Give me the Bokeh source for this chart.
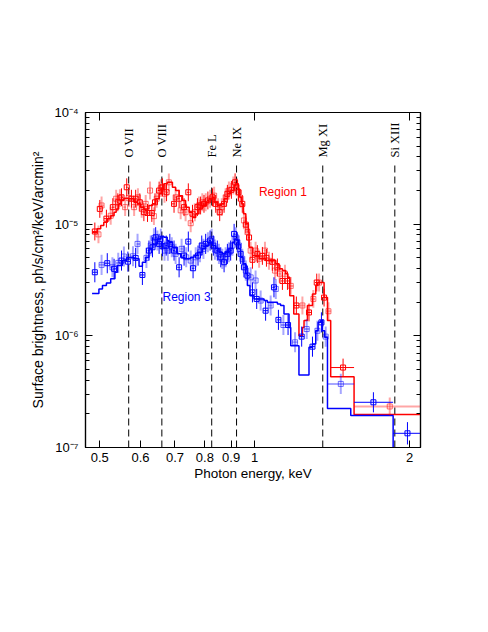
import numpy as np
from bokeh.plotting import figure
from bokeh.models import FixedTicker, LogAxis, CustomJSTickFormatter, Range1d
from bokeh.core.properties import value
from bokeh.embed import file_html
from bokeh.resources import INLINE

UNIT = 1e-6  # brightness values below are in units of 1e-6 ph/s/cm2/keV/arcmin2

# ---------------- data ----------------
# Region 1 model (step): bin edges (keV) and values
red_model_edges = [0.483, 0.494, 0.502, 0.509, 0.517, 0.525, 0.533, 0.538, 0.544, 0.551,
                   0.557, 0.567, 0.583, 0.592, 0.600, 0.609, 0.623, 0.633, 0.642, 0.652,
                   0.658, 0.666, 0.676, 0.692, 0.702, 0.713, 0.724, 0.734, 0.746, 0.757,
                   0.768, 0.779, 0.791, 0.803, 0.815, 0.828, 0.834, 0.846, 0.859, 0.872,
                   0.885, 0.898, 0.912, 0.919, 0.928, 0.935, 0.943, 0.951, 0.961, 0.972,
                   0.975, 0.990, 1.020, 1.050, 1.082, 1.099, 1.115, 1.132, 1.149, 1.160,
                   1.170, 1.191, 1.219, 1.238, 1.247, 1.266, 1.295, 1.314, 1.324, 1.334,
                   1.364, 1.385, 1.405, 1.560, 2.200]
red_model_vals = [8.46, 9.08, 9.72, 10.4, 11.2, 11.9, 12.8, 13.7, 15.2, 16.3,
                  17.1, 16.9, 15.7, 15.2, 14.2, 13.7, 14.7, 15.2, 16.9, 18.7,
                  20.6, 23.0, 23.7, 21.4, 20.0, 18.0, 16.3, 14.2, 12.8, 11.5,
                  12.4, 13.7, 14.7, 15.7, 16.9, 17.4, 15.7, 14.7, 15.2, 16.9,
                  18.7, 20.0, 22.2, 23.0, 20.7, 17.4, 15.2, 12.4, 10.1, 8.46,
                  6.21, 5.23, 4.89, 4.72, 4.72, 4.41, 3.98, 3.84, 3.59, 3.34,
                  2.29, 1.57, 1.00, 1.19, 1.37, 1.87, 2.37, 2.82, 3.01, 3.01,
                  2.21, 1.37, 0.431, 0.197]

# Region 3 model (step)
blue_model_edges = [0.483, 0.498, 0.506, 0.515, 0.525, 0.535, 0.541, 0.553, 0.564, 0.583,
                    0.596, 0.605, 0.614, 0.623, 0.633, 0.647, 0.657, 0.666, 0.676, 0.681,
                    0.692, 0.707, 0.718, 0.729, 0.751, 0.762, 0.774, 0.791, 0.803, 0.815,
                    0.828, 0.840, 0.852, 0.865, 0.878, 0.891, 0.905, 0.914, 0.923, 0.930,
                    0.939, 0.949, 0.961, 0.968, 0.979, 0.997, 1.043, 1.058, 1.107, 1.123,
                    1.140, 1.166, 1.175, 1.219, 1.275, 1.295, 1.314, 1.328, 1.344, 1.354,
                    1.368, 1.385, 1.537, 1.858, 2.200]
blue_model_vals = [2.40, 2.63, 2.82, 2.98, 3.24, 3.71, 4.26, 4.72, 5.02, 4.89,
                   4.20, 4.56, 5.05, 6.01, 6.66, 7.38, 7.80, 7.64, 7.13, 6.88,
                   6.21, 5.42, 5.05, 4.89, 5.05, 5.23, 5.60, 6.01, 6.43, 6.88,
                   6.43, 6.01, 5.60, 5.42, 5.60, 6.01, 6.88, 7.38, 7.13, 6.01,
                   5.05, 4.41, 3.59, 2.82, 2.29, 2.14, 2.07, 2.00, 1.93, 1.87,
                   1.57, 1.19, 0.817, 0.447, 0.789, 0.846, 1.11, 1.32, 1.37, 1.11,
                   0.97, 0.224, 0.193, 0.05]

# Region 1 data points
red_e = [0.489, 0.497, 0.500, 0.504, 0.515, 0.525, 0.530, 0.538, 0.542, 0.547,
         0.551, 0.560, 0.564, 0.569, 0.576, 0.583, 0.587, 0.593, 0.598, 0.603,
         0.609, 0.614, 0.619, 0.626, 0.631, 0.637, 0.640, 0.645, 0.652, 0.657,
         0.662, 0.668, 0.674, 0.681,
         0.697, 0.702, 0.713, 0.718, 0.729, 0.734, 0.743, 0.751, 0.757, 0.765,
         0.774, 0.779, 0.785, 0.791, 0.797, 0.803, 0.811, 0.819, 0.828, 0.834,
         0.840, 0.849, 0.855, 0.863, 0.872, 0.878, 0.885, 0.891, 0.901, 0.909,
         0.916, 0.923, 0.930, 0.939, 0.946, 0.953, 0.961, 0.968, 0.975, 0.982,
         0.990, 1.004, 1.012, 1.020, 1.035, 1.047, 1.054, 1.066, 1.082, 1.095,
         1.107, 1.118, 1.132, 1.145, 1.158, 1.175, 1.205, 1.238, 1.275, 1.300,
         1.320, 1.334, 1.364, 1.391, 1.485, 1.830]
red_f = [8.6, 8.1, 13.7, 14.7, 11.2, 11.9, 14.2, 16.9, 15.7, 17.1,
         17.4, 14.2, 21.4, 17.1, 16.9, 14.2, 16.9, 17.4, 15.7, 13.7,
         12.8, 15.2, 12.6, 20.0, 12.6, 11.8, 15.7, 16.9, 20.0, 21.0,
         21.4, 18.7, 19.3, 23.7,
         15.2, 17.4, 16.9, 13.3, 14.2, 12.8, 19.3, 10.2, 12.4, 12.8,
         14.2, 14.7, 14.7, 15.7, 15.2, 15.7, 16.3, 16.9, 17.4, 18.0,
         15.2, 14.2, 12.8, 14.2, 15.2, 17.4, 18.7, 20.0, 20.3, 22.2,
         23.7, 21.4, 19.3, 16.9, 15.2, 10.8, 9.9, 8.5, 7.6, 5.8,
         4.8, 5.8, 5.4, 4.9, 5.2, 5.8, 5.0, 4.7, 4.6, 3.84,
         4.1, 3.6, 3.1, 3.6, 3.1, 2.8, 1.87, 1.87, 1.62, 2.14,
         3.0, 3.0, 2.2, 1.66, 0.52, 0.233]
red_wide_bins = {98: (1.405, 1.560), 99: (1.560, 2.200)}

# Region 3 data points
blue_e = [0.489, 0.504, 0.517, 0.529, 0.533, 0.543, 0.551, 0.557, 0.567, 0.580,
          0.587, 0.592, 0.605, 0.616, 0.623, 0.628, 0.633, 0.637, 0.642, 0.647,
          0.652, 0.657, 0.662, 0.668, 0.673, 0.678, 0.684, 0.690, 0.697, 0.702,
          0.713, 0.721, 0.729, 0.736, 0.743, 0.751, 0.759, 0.768, 0.776, 0.783,
          0.789, 0.795, 0.803, 0.811, 0.819, 0.825, 0.831, 0.837, 0.846, 0.852,
          0.859, 0.865, 0.872, 0.878, 0.885, 0.891, 0.898, 0.905, 0.912, 0.919,
          0.925, 0.932, 0.939, 0.946, 0.953, 0.961, 0.968, 0.982, 0.990, 1.004,
          1.009, 1.027, 1.050, 1.074, 1.090, 1.099, 1.112, 1.137, 1.161, 1.198,
          1.234, 1.262, 1.295, 1.324, 1.348, 1.374, 1.470, 1.701, 1.981]
blue_f = [3.71, 4.32, 4.47, 4.11, 3.98, 4.50, 4.72, 5.13, 4.62, 5.16,
          4.99, 6.66, 3.51, 4.99, 5.80, 6.43, 6.21, 7.48, 7.64, 7.13,
          6.66, 7.38, 6.34, 5.80, 6.43, 5.80, 6.66, 6.21, 5.80, 5.42,
          4.11, 6.01, 5.23, 5.05, 6.98, 4.72, 4.03, 5.05, 5.23, 5.60,
          6.43, 6.01, 6.66, 6.88, 7.13, 7.38, 6.43, 5.92, 5.80, 5.42,
          5.05, 4.89, 4.56, 5.05, 5.42, 5.60, 5.80, 6.43, 8.18, 7.64,
          6.88, 6.43, 5.42, 4.89, 4.11, 3.84, 3.46, 3.34, 2.45, 3.13,
          2.14, 2.07, 1.68, 1.87, 2.72, 2.63, 1.39, 1.25, 1.25, 0.875,
          0.984, 1.15, 0.80, 1.11, 1.32, 0.984, 0.371, 0.254, 0.134]
blue_wide_bins = {86: (1.385, 1.560), 87: (1.560, 1.858), 88: (1.858, 2.200)}
blue_light_swap = {86, 87}

# emission lines
line_names = ["O VII", "O VIII", "Fe L", "Ne IX", "Mg XI", "Si XIII"]
line_e = [0.569, 0.660, 0.825, 0.922, 1.356, 1.872]

y_ticks = [1e-7, 1e-6, 1e-5, 1e-4]
x_ticks = [0.5, 0.6, 0.7, 0.8, 0.9, 1.0, 2.0]
x_top_ticks = [0.5, 1.0, 2.0]

# ---------------- figure ----------------
p = figure(width=480, height=624, x_axis_type="log", y_axis_type="log",
           x_range=Range1d(0.469, 2.10), y_range=Range1d(1e-7, 1e-4),
           output_backend="svg", toolbar_location=None,
           min_border_left=85, min_border_right=60, min_border_top=112,
           min_border_bottom=177)
p.grid.visible = False
p.outline_line_color = "black"
p.outline_line_width = 1.2
p.background_fill_color = "white"
p.border_fill_color = "white"

minor_y = [k * d for d in [1e-7, 1e-6, 1e-5] for k in range(2, 10)]

sup = ("const m={'-':'\u207b','0':'\u2070','1':'\u00b9','2':'\u00b2','3':'\u00b3',"
       "'4':'\u2074','5':'\u2075','6':'\u2076','7':'\u2077','8':'\u2078','9':'\u2079'};"
       "const e=Math.round(Math.log10(tick));"
       "return '10'+String(e).split('').map(c=>m[c]).join('');")

yax = p.yaxis[0]
yax.ticker = FixedTicker(ticks=y_ticks, minor_ticks=minor_y)
yax.formatter = CustomJSTickFormatter(code=sup)
xax = p.xaxis[0]
xax.ticker = FixedTicker(ticks=x_ticks, minor_ticks=[])
xax.formatter = CustomJSTickFormatter(code="return String(tick);")

for ax in (xax, yax):
    ax.major_tick_in = 7
    ax.major_tick_out = 0
    ax.minor_tick_in = 4
    ax.minor_tick_out = 0
    ax.axis_line_color = "black"
    ax.axis_line_width = 1.2
    ax.major_label_text_font = "Liberation Sans"
    ax.major_label_text_font_size = "13px"
    ax.major_label_text_color = "black"
    ax.axis_label_text_font = "Liberation Sans"
    ax.axis_label_text_font_style = "normal"
    ax.axis_label_text_color = "black"

xax.axis_label = "Photon energy, keV"
xax.axis_label_text_font_size = "13.5px"
xax.major_label_standoff = 5
xax.axis_label_standoff = 1
yax.axis_label = "Surface brightness, ph/s/cm\u00b2/keV/arcmin\u00b2"
yax.axis_label_text_font_size = "14px"
yax.major_label_standoff = 7
yax.axis_label_standoff = 5

top = LogAxis(ticker=FixedTicker(ticks=x_top_ticks, minor_ticks=[]),
              formatter=CustomJSTickFormatter(code="return '';"),
              major_tick_in=8, major_tick_out=0, minor_tick_in=0, minor_tick_out=0,
              axis_line_color="black", axis_line_width=1.2,
              major_label_text_font_size="1px")
p.add_layout(top, "above")
right = LogAxis(ticker=FixedTicker(ticks=y_ticks, minor_ticks=minor_y),
                formatter=CustomJSTickFormatter(code="return '';"),
                major_tick_in=7, major_tick_out=0, minor_tick_in=4, minor_tick_out=0,
                axis_line_color="black", axis_line_width=1.2,
                major_label_text_font_size="1px")
p.add_layout(right, "right")

# emission line markers
p.segment(x0=line_e, y0=[1e-7] * len(line_e), x1=line_e, y1=[3.5e-5] * len(line_e),
          line_color="black", line_width=1, line_dash="7 4")
p.text(x=line_e, y=[3.95e-5] * len(line_e), text=line_names, angle=np.pi / 2,
       text_align="left", text_baseline="alphabetic", text_color="black",
       text_font=value("Liberation Serif"), text_font_size="12.5px")

# models
def draw_model(edges, vals, color):
    ys = [v * UNIT for v in vals] + [vals[-1] * UNIT]
    p.step(x=edges, y=ys, mode="after", line_color=color, line_width=1.5)

draw_model(red_model_edges, red_model_vals, "#ff0000")
draw_model(blue_model_edges, blue_model_vals, "#0000ff")

# data points
def draw_data(es, fs, wide, color, dex, swap=frozenset()):
    es = np.array(es)
    fs = np.array(fs) * UNIT
    n = len(es)
    lo = np.empty(n)
    hi = np.empty(n)
    for i in range(n):
        if i in wide:
            lo[i], hi[i] = wide[i]
        else:
            l = np.sqrt(es[i - 1] * es[i]) if i > 0 else es[i] / 1.01
            h = np.sqrt(es[i] * es[i + 1]) if i < n - 1 else es[i] * 1.01
            lo[i] = max(l, es[i] / 1.012)
            hi[i] = min(h, es[i] * 1.012)
    d = np.array(dex)
    ylo = fs / 10 ** d
    yhi = fs * 10 ** d
    light = np.array([(i % 2 == 1) != (i in swap) for i in range(n)])
    for sel, alpha, lw, malpha in ((light, 0.35, 2.0, 0.55), (~light, 1.0, 1.0, 1.0)):
        p.segment(x0=es[sel], y0=ylo[sel], x1=es[sel], y1=yhi[sel],
                  line_color=color, line_alpha=alpha, line_width=lw)
        p.segment(x0=lo[sel], y0=fs[sel], x1=hi[sel], y1=fs[sel],
                  line_color=color, line_alpha=alpha, line_width=lw)
        p.scatter(x=es[sel], y=fs[sel], marker="square", size=5, fill_color=None,
                  line_color=color, line_alpha=malpha, line_width=1)

red_dex = [0.08] * len(red_e)
blue_dex = [0.09] * len(blue_e)
blue_dex[-1] = 0.1
draw_data(red_e, red_f, red_wide_bins, "#ff0000", red_dex)
draw_data(blue_e, blue_f, blue_wide_bins, "#0000ff", blue_dex, blue_light_swap)

# region labels
p.text(x=[1.019], y=[1.94e-5], text=["Region  1"], text_color="#ff0000",
       text_align="left", text_baseline="middle",
       text_font=value("Liberation Sans"), text_font_size="12px")
p.text(x=[0.662], y=[2.21e-6], text=["Region  3"], text_color="#0000ff",
       text_align="left", text_baseline="middle",
       text_font=value("Liberation Sans"), text_font_size="12px")

open("out.html", "w").write(file_html(p, INLINE))
